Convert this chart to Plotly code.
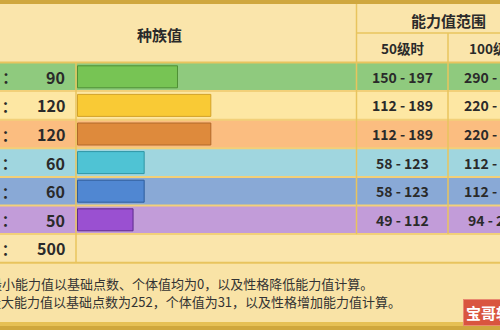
import plotly.graph_objects as go

# ---------------- data ----------------
stat_names = ["HP", "攻击", "防御", "特攻", "特防", "速度"]
base_stats = [90, 120, 120, 60, 60, 50]
total_label = "总计"
total_value = 500
lv50_min = [150, 112, 112, 58, 58, 49]
lv50_max = [197, 189, 189, 123, 123, 112]
lv100_min = [290, 220, 220, 112, 112, 94]
lv100_max = [384, 372, 372, 240, 240, 218]
header_left = "种族值"
header_right = "能力值范围"
col_lv50 = "50级时"
col_lv100 = "100级时"
notes = ["最小能力值以基础点数、个体值均为0，以及性格降低能力值计算。",
         "最大能力值以基础点数为252，个体值为31，以及性格增加能力值计算。"]
watermark = "宝哥软件园"

# ---------------- styles ----------------
row_colors = ["#8fca7e", "#fde7a3", "#fbbd80", "#a0d6df", "#89a9d6", "#c29cd9"]
bar_colors = ["#77c454", "#f9ca35", "#de8a3c", "#4fc3d4", "#5087d2", "#9a50d1"]
bar_edges = ["#4e8f35", "#d2a22a", "#b0682a", "#2f95a5", "#2d5c9c", "#5d2a8c"]
HDR_BG = "#fae5ab"
NOTE_BG = "#f9e3a6"
GRID = "#e8c45e"
SEP = "#f2d079"
BORDER = "#cfa73e"
TXT = "#2a2a2a"
FONT = "Noto Sans CJK SC"

W, H = 500, 330
TOP = 4
HDR_MID = 33
HDR_BOT = 62.5
ROW_H = 28.6
X_LBL = 76
X_BAR0 = 77.5
X_C1 = 356.5
X_C2 = 448
X_C3 = 540
PX_PER_UNIT = 1.111
BAR_THICK = 22

n = len(base_stats)
row_tops = [HDR_BOT + i * ROW_H for i in range(n + 1)]
row_mid = [t + ROW_H / 2 for t in row_tops]
TOTAL_BOT = row_tops[-1] + ROW_H

fig = go.Figure()

fig.add_trace(go.Bar(
    x=base_stats, y=row_mid[:n], orientation="h", xaxis="x2", yaxis="y",
    width=BAR_THICK,
    marker=dict(color=bar_colors, line=dict(color=bar_edges, width=1)),
    hoverinfo="skip", showlegend=False,
))

shapes = []
def rect(x0, y0, x1, y1, color):
    shapes.append(dict(type="rect", xref="x", yref="y", x0=x0, x1=x1, y0=y0, y1=y1,
                       fillcolor=color, line=dict(width=0), layer="below"))
def line(x0, y0, x1, y1, color, w=1.5):
    shapes.append(dict(type="line", xref="x", yref="y", x0=x0, x1=x1, y0=y0, y1=y1,
                       line=dict(color=color, width=w), layer="below"))

# backgrounds
rect(0, 0, W, HDR_BOT, HDR_BG)
for i in range(n):
    rect(0, row_tops[i], W, row_tops[i] + ROW_H, row_colors[i])
rect(0, row_tops[n], W, TOTAL_BOT, HDR_BG)
rect(0, TOTAL_BOT, W, H, NOTE_BG)
# borders
rect(0, 0, W, TOP, BORDER)
rect(0, H - 8, W, H - 4, "#e6c055")
rect(0, H - 4, W, H, BORDER)

# separators
for i in range(1, n + 1):
    line(0, row_tops[i], W, row_tops[i], SEP, 2)
line(0, HDR_BOT, W, HDR_BOT, GRID, 2)
line(0, TOTAL_BOT, W, TOTAL_BOT, GRID, 2)
line(X_C1, HDR_MID, W, HDR_MID, GRID, 1.5)
line(X_LBL, HDR_BOT, X_LBL, TOTAL_BOT, GRID, 1.5)
line(X_C1, TOP, X_C1, row_tops[n], GRID, 1.5)
line(X_C2, HDR_MID, X_C2, row_tops[n], GRID, 1.5)

ann = []
def text(x, y, s, size, anchor="center", bold=True, color=TXT, xref="x", pad=1):
    ann.append(dict(x=x, y=y, xref=xref, yref="y", text=("<b>%s</b>" % s) if bold else s,
                    showarrow=False, xanchor=anchor, yanchor="middle", borderpad=pad,
                    font=dict(family=FONT, size=size, color=color)))

text(159, 34, header_left, 15)
text((X_C1 + X_C3) / 2, 20, header_right, 15)
text((X_C1 + X_C2) / 2, 48, col_lv50, 13.5)
text((X_C2 + X_C3) / 2, 48, col_lv100, 13.5)

for i in range(n):
    y = row_mid[i]
    text(19, y, stat_names[i] + "  ：", 15, anchor="right")
    text(67, y, str(base_stats[i]), 16, anchor="right")
    text((X_C1 + X_C2) / 2, y, "%d - %d" % (lv50_min[i], lv50_max[i]), 14)
    text((X_C2 + X_C3) / 2, y, "%d - %d" % (lv100_min[i], lv100_max[i]), 14)
text(19, row_mid[n], total_label + "  ：", 15, anchor="right")
text(67, row_mid[n], str(total_value), 16, anchor="right")

text(-12 / W, 283, notes[0], 13, anchor="left", bold=False, color="#333333", xref="paper", pad=0)
text(-13 / W, 301, notes[1], 13, anchor="left", bold=False, color="#333333", xref="paper", pad=0)

ann.append(dict(x=463, y=312, xref="x", yref="y", text="<b>%s</b>" % watermark,
                showarrow=False, xanchor="left", yanchor="middle",
                bgcolor="#d9553f", bordercolor="#e98a70", borderwidth=1, borderpad=2,
                font=dict(family=FONT, size=15, color="#ffffff")))

fig.update_layout(
    width=W, height=H, margin=dict(l=0, r=0, t=0, b=0),
    paper_bgcolor=HDR_BG, plot_bgcolor=HDR_BG,
    shapes=shapes, annotations=ann, showlegend=False,
    xaxis=dict(range=[0, W], visible=False, fixedrange=True),
    xaxis2=dict(range=[-X_BAR0 / PX_PER_UNIT, (W - X_BAR0) / PX_PER_UNIT],
                overlaying="x", visible=False, fixedrange=True),
    yaxis=dict(range=[H, 0], visible=False, fixedrange=True),
)

fig.write_html("out.html")
